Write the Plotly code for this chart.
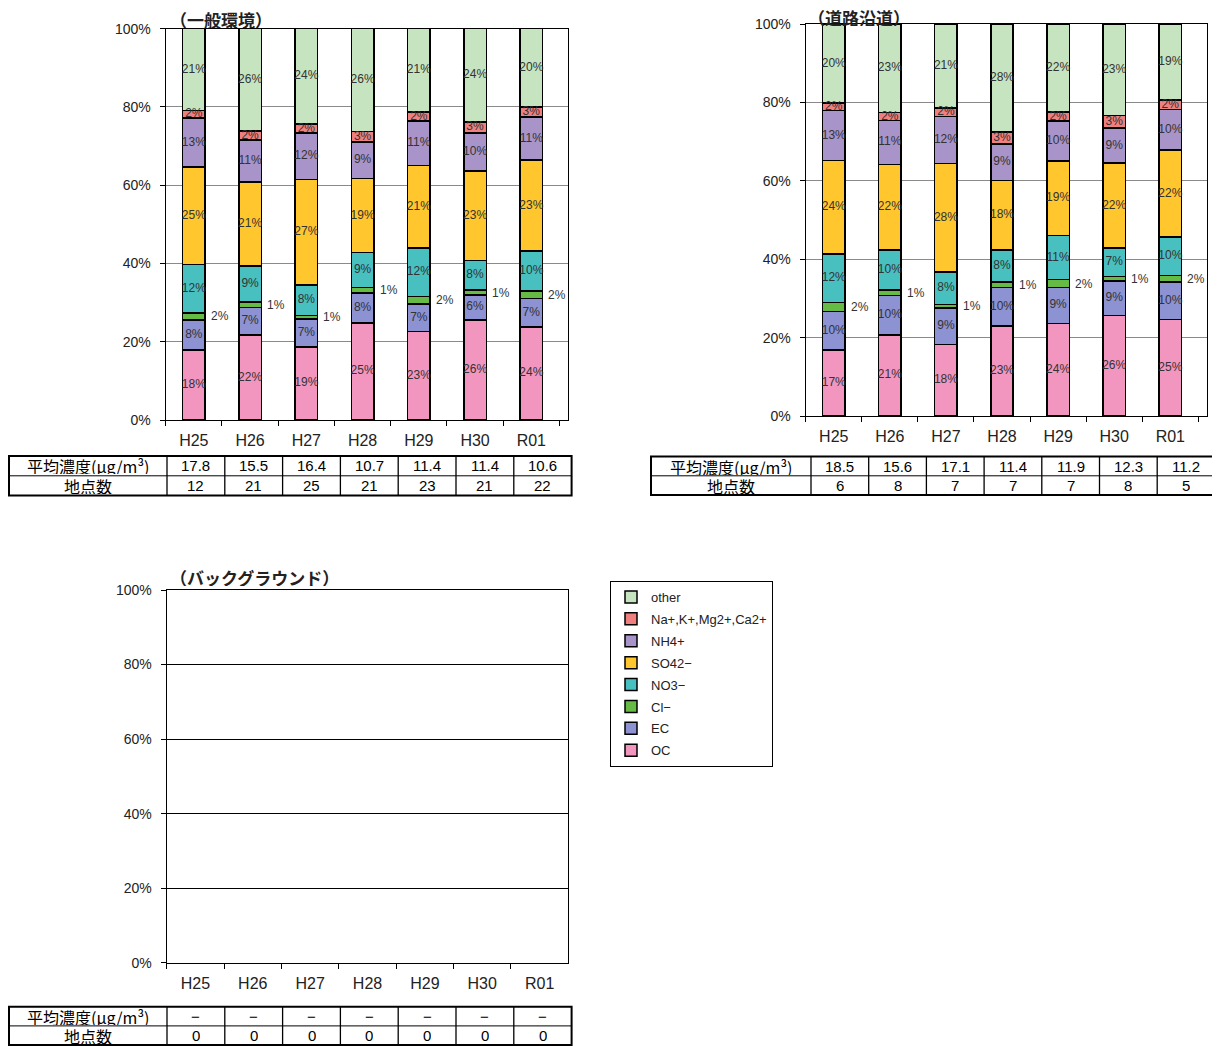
import plotly.graph_objects as go

W, H = 1220, 1046
OFF = 8  # page body margin

years = ['H25', 'H26', 'H27', 'H28', 'H29', 'H30', 'R01']
names = ['OC', 'EC', 'Cl−', 'NO3−', 'SO42−', 'NH4+', 'Na+,K+,Mg2+,Ca2+', 'other']
colors = ['#F296C0', '#8C92D2', '#66BB44', '#48C0C0', '#FFC62E', '#A894C8', '#F08080', '#C6E4C0']

# 一般環境 (composition, %)
gen_oc = [17.9, 21.7, 18.7, 24.8, 22.6, 25.6, 23.8]
gen_ec = [7.7, 7.1, 7.1, 7.7, 7.0, 6.3, 7.2]
gen_cl = [1.8, 1.3, 0.9, 1.3, 1.9, 1.3, 2.0]
gen_no3 = [12.4, 9.3, 7.8, 9.0, 12.4, 7.6, 10.2]
gen_so4 = [24.8, 21.4, 27.0, 18.9, 21.2, 22.8, 23.2]
gen_nh4 = [12.6, 10.7, 11.8, 9.3, 11.3, 9.8, 11.0]
gen_na = [1.9, 2.3, 2.3, 2.7, 2.3, 2.7, 2.6]
gen_other = [20.9, 26.2, 24.4, 26.3, 21.3, 23.9, 20.0]

# 道路沿道 (composition, %)
road_oc = [16.9, 20.7, 18.2, 23.0, 23.6, 25.7, 24.6]
road_ec = [9.7, 10.1, 9.3, 9.8, 9.2, 8.8, 9.6]
road_cl = [2.3, 1.4, 1.0, 1.4, 2.0, 1.1, 1.7]
road_no3 = [12.4, 10.1, 8.2, 8.1, 11.2, 7.2, 9.8]
road_so4 = [23.9, 21.9, 27.7, 17.8, 19.0, 21.7, 22.1]
road_nh4 = [12.7, 11.2, 12.0, 9.3, 10.2, 9.0, 10.4]
road_na = [1.9, 2.0, 2.2, 3.0, 2.4, 3.1, 2.4]
road_other = [20.2, 22.6, 21.4, 27.6, 22.4, 23.4, 19.4]

# table rows
gen_conc = ['17.8', '15.5', '16.4', '10.7', '11.4', '11.4', '10.6']
gen_sites = [12, 21, 25, 21, 23, 21, 22]
road_conc = ['18.5', '15.6', '17.1', '11.4', '11.9', '12.3', '11.2']
road_sites = [6, 8, 7, 7, 7, 8, 5]
bg_conc = ['−'] * 7
bg_sites = [0, 0, 0, 0, 0, 0, 0]

conc_label = '平均濃度(μg/m³)'
sites_label = '地点数'

FONT = 'Liberation Sans, Arial, Noto Sans CJK JP'
JP = 'Noto Sans CJK JP'


def xp(p):
    return (p - OFF) / W


def yp(p):
    return 1 - (p - OFF) / H


fig = go.Figure()


def add_stack(series, xa, ya, legend):
    for i, vals in enumerate(series):
        fig.add_trace(go.Bar(
            x=years, y=vals, name=names[i], xaxis=xa, yaxis=ya, legendgroup=names[i],
            legendrank=len(names) - i,
            marker=dict(color=colors[i], line=dict(color='black', width=1.5)),
            showlegend=legend, hoverinfo='skip'))
    # percentage labels in the middle of each segment (Cl- goes beside the bar)
    lx, ly, lt = [], [], []
    for j, yr in enumerate(years):
        base = 0
        for i, vals in enumerate(series):
            mid = base + vals[j] / 2
            base += vals[j]
            if names[i] == 'Cl−':
                fig.add_annotation(x=yr, y=mid, xref=xa, yref=ya, text=f'{vals[j]:.0f}%',
                                   showarrow=False, xanchor='left', xshift=15,
                                   font=dict(size=12, color='#333333', family=FONT))
            else:
                lx.append(yr)
                ly.append(mid)
                lt.append(f'{vals[j]:.0f}%')
    fig.add_trace(go.Scatter(x=lx, y=ly, text=lt, mode='text', xaxis=xa, yaxis=ya,
                             textposition='middle center', cliponaxis=False,
                             textfont=dict(size=12, color='#333333', family=FONT),
                             showlegend=False, hoverinfo='skip'))


add_stack([gen_oc, gen_ec, gen_cl, gen_no3, gen_so4, gen_nh4, gen_na, gen_other], 'x', 'y', True)
add_stack([road_oc, road_ec, road_cl, road_no3, road_so4, road_nh4, road_na, road_other], 'x2', 'y2', False)
fig.add_trace(go.Bar(x=years, y=bg_sites, xaxis='x3', yaxis='y3', showlegend=False,
                     marker=dict(color='white', line=dict(width=0)), hoverinfo='skip'))

panels = [
    # x0, x1, ytop, ybottom, grid colour
    ('', 165.7, 568.3, 28.7, 420, '#8a8a8a'),
    ('2', 805.7, 1207.3, 24, 416, '#8a8a8a'),
    ('3', 166.7, 568.3, 590, 962.7, 'black'),
]
for k, x0, x1, y0, y1, gc in panels:
    fig.update_layout(**{
        'xaxis' + k: dict(domain=[xp(x0), xp(x1)], anchor='y' + k, type='category',
                          automargin=False,
                          showline=True, linecolor='black', linewidth=1.3, mirror=True,
                          ticks='outside', tickson='boundaries', ticklen=5, tickcolor='black',
                          ticklabelstandoff=6,
                          tickfont=dict(size=16, color='#222222', family=FONT), showgrid=False),
        'yaxis' + k: dict(domain=[yp(y1), yp(y0)], anchor='x' + k, range=[0, 100], dtick=20,
                          automargin=False,
                          ticksuffix='%', showline=True, linecolor='black', linewidth=1.3,
                          mirror=True, ticks='outside', ticklen=5, tickcolor='black',
                          ticklabelstandoff=6,
                          showgrid=True, gridcolor=gc, gridwidth=1, zeroline=False,
                          tickfont=dict(size=14, color='#222222', family=FONT)),
    })

titles = [('（一般環境）', 168, 19), ('（道路沿道）', 806, 17), ('（バックグラウンド）', 168, 577)]
for t, x, y in titles:
    fig.add_annotation(text='<b>' + t + '</b>', x=xp(x), y=yp(y), xref='paper', yref='paper',
                       xanchor='left', yanchor='middle', showarrow=False, height=18,
                       font=dict(size=17, color='#222222', family=JP))

tables = [
    # values, sites, left, label-col right, column width, top, row height
    (gen_conc, gen_sites, 9, 167, 57.8, 456, 19.8),
    (road_conc, road_sites, 651, 811, 57.7, 456.5, 19.3),
    (bg_conc, bg_sites, 9, 167, 57.8, 1006.7, 19.2),
]
for conc, sites, x0, x1, cw, top, rh in tables:
    right = x1 + cw * len(years)
    rows = [[conc_label] + conc, [sites_label] + [str(s) for s in sites]]
    for r, row in enumerate(rows):
        cy = top + rh * (r + 0.5)
        for c, val in enumerate(row):
            cx = (x0 + x1) / 2 if c == 0 else x1 + cw * (c - 0.5)
            fig.add_annotation(text=val, x=xp(cx), y=yp(cy), xref='paper', yref='paper',
                               showarrow=False, xanchor='center', yanchor='middle',
                               height=17, borderpad=0,
                               font=dict(size=16 if c == 0 else 15, color='black',
                                         family=JP if c == 0 else FONT))
    # grid
    fig.add_shape(type='line', xref='paper', yref='paper', x0=xp(x0), x1=xp(right),
                  y0=yp(top + rh), y1=yp(top + rh), line=dict(color='black', width=1))
    for c in range(len(years)):
        gx = x1 + cw * c
        fig.add_shape(type='line', xref='paper', yref='paper', x0=xp(gx), x1=xp(gx),
                      y0=yp(top), y1=yp(top + 2 * rh), line=dict(color='black', width=1.3))
    fig.add_shape(type='rect', xref='paper', yref='paper', x0=xp(x0), x1=xp(right),
                  y0=yp(top + 2 * rh), y1=yp(top), line=dict(color='black', width=2))

fig.update_layout(
    width=W, height=H, margin=dict(l=0, r=0, t=0, b=0, autoexpand=False),
    paper_bgcolor='white', plot_bgcolor='white',
    barmode='stack', bargap=0.6,
    font=dict(family=FONT, color='#222222'),
    legend=dict(x=xp(610), y=yp(581), xanchor='left', yanchor='top',
                traceorder='grouped', tracegroupgap=2,
                bordercolor='black', borderwidth=1, bgcolor='white',
                font=dict(size=13, color='#222222', family=FONT), itemwidth=30),
)

fig.write_html('out.html')
